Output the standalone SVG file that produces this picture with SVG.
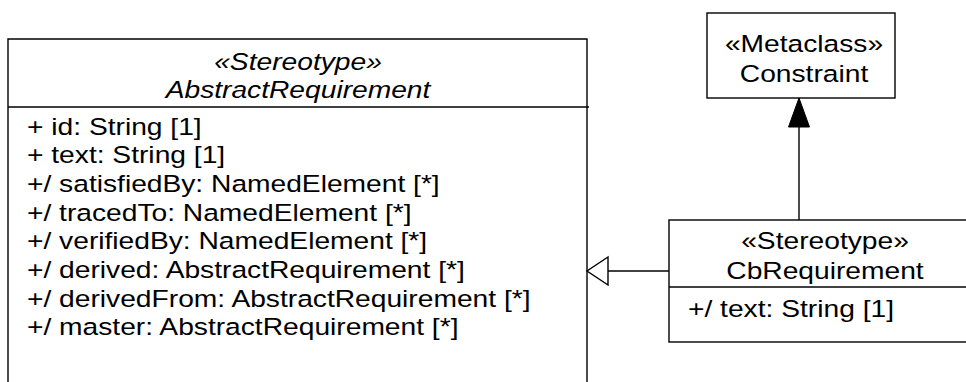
<svg xmlns="http://www.w3.org/2000/svg" width="966" height="382" viewBox="0 0 966 382">
<style>
.box{fill:#fff;stroke:#000;stroke-width:1.4}
.ln{stroke:#000;stroke-width:1.4;fill:none}
text{font-family:"Liberation Sans",Arial,Helvetica,sans-serif;font-size:23.5px;fill:#000}
.c{text-anchor:middle}
.i{font-style:italic}
</style>
<defs>
<marker id="gen" markerWidth="24" markerHeight="32" refX="22" refY="15" orient="auto" markerUnits="userSpaceOnUse">
<path d="M1,1 L22,15 L1,29 Z" fill="#fff" stroke="#000" stroke-width="1.4"/>
</marker>
<marker id="ext" markerWidth="32" markerHeight="24" refX="30" refY="11" orient="auto" markerUnits="userSpaceOnUse">
<path d="M1,0.5 L30,11 L1,21.5 Z" fill="#000" stroke="#000" stroke-width="1"/>
</marker>
</defs>

<g id="AbstractRequirement">
<path class="box" d="M8,390 L8,39 L587,39 L587,390"/>
<line class="ln" x1="8" y1="107" x2="589" y2="107"/>
<text class="c i" transform="translate(298,69.5) scale(1.2,1)">«Stereotype»</text>
<text class="c i" transform="translate(298,98) scale(1.2,1)">AbstractRequirement</text>
<text transform="translate(27,134.5) scale(1.2,1)">+ id: String [1]</text>
<text transform="translate(27,163.2) scale(1.2,1)">+ text: String [1]</text>
<text transform="translate(27,191.9) scale(1.2,1)">+/ satisfiedBy: NamedElement [*]</text>
<text transform="translate(27,220.6) scale(1.2,1)">+/ tracedTo: NamedElement [*]</text>
<text transform="translate(27,249.3) scale(1.2,1)">+/ verifiedBy: NamedElement [*]</text>
<text transform="translate(27,278) scale(1.2,1)">+/ derived: AbstractRequirement [*]</text>
<text transform="translate(27,306.7) scale(1.2,1)">+/ derivedFrom: AbstractRequirement [*]</text>
<text transform="translate(27,335.4) scale(1.2,1)">+/ master: AbstractRequirement [*]</text>
</g>

<g id="Constraint">
<rect class="box" x="707" y="13" width="188" height="85"/>
<text class="c" transform="translate(804,51.5) scale(1.2,1)">«Metaclass»</text>
<text class="c" transform="translate(804,81.5) scale(1.2,1)">Constraint</text>
</g>

<g id="CbRequirement">
<rect class="box" x="669" y="220" width="320" height="122"/>
<line class="ln" x1="669" y1="287" x2="989" y2="287"/>
<text class="c" transform="translate(825,249.3) scale(1.2,1)">«Stereotype»</text>
<text class="c" transform="translate(825,279.3) scale(1.2,1)">CbRequirement</text>
<text transform="translate(688,316.7) scale(1.2,1)">+/ text: String [1]</text>
</g>

<g id="connectors">
<line class="ln" x1="669" y1="271" x2="587" y2="271" marker-end="url(#gen)"/>
<line class="ln" x1="799" y1="220" x2="799" y2="98" marker-end="url(#ext)"/>
</g>
</svg>
